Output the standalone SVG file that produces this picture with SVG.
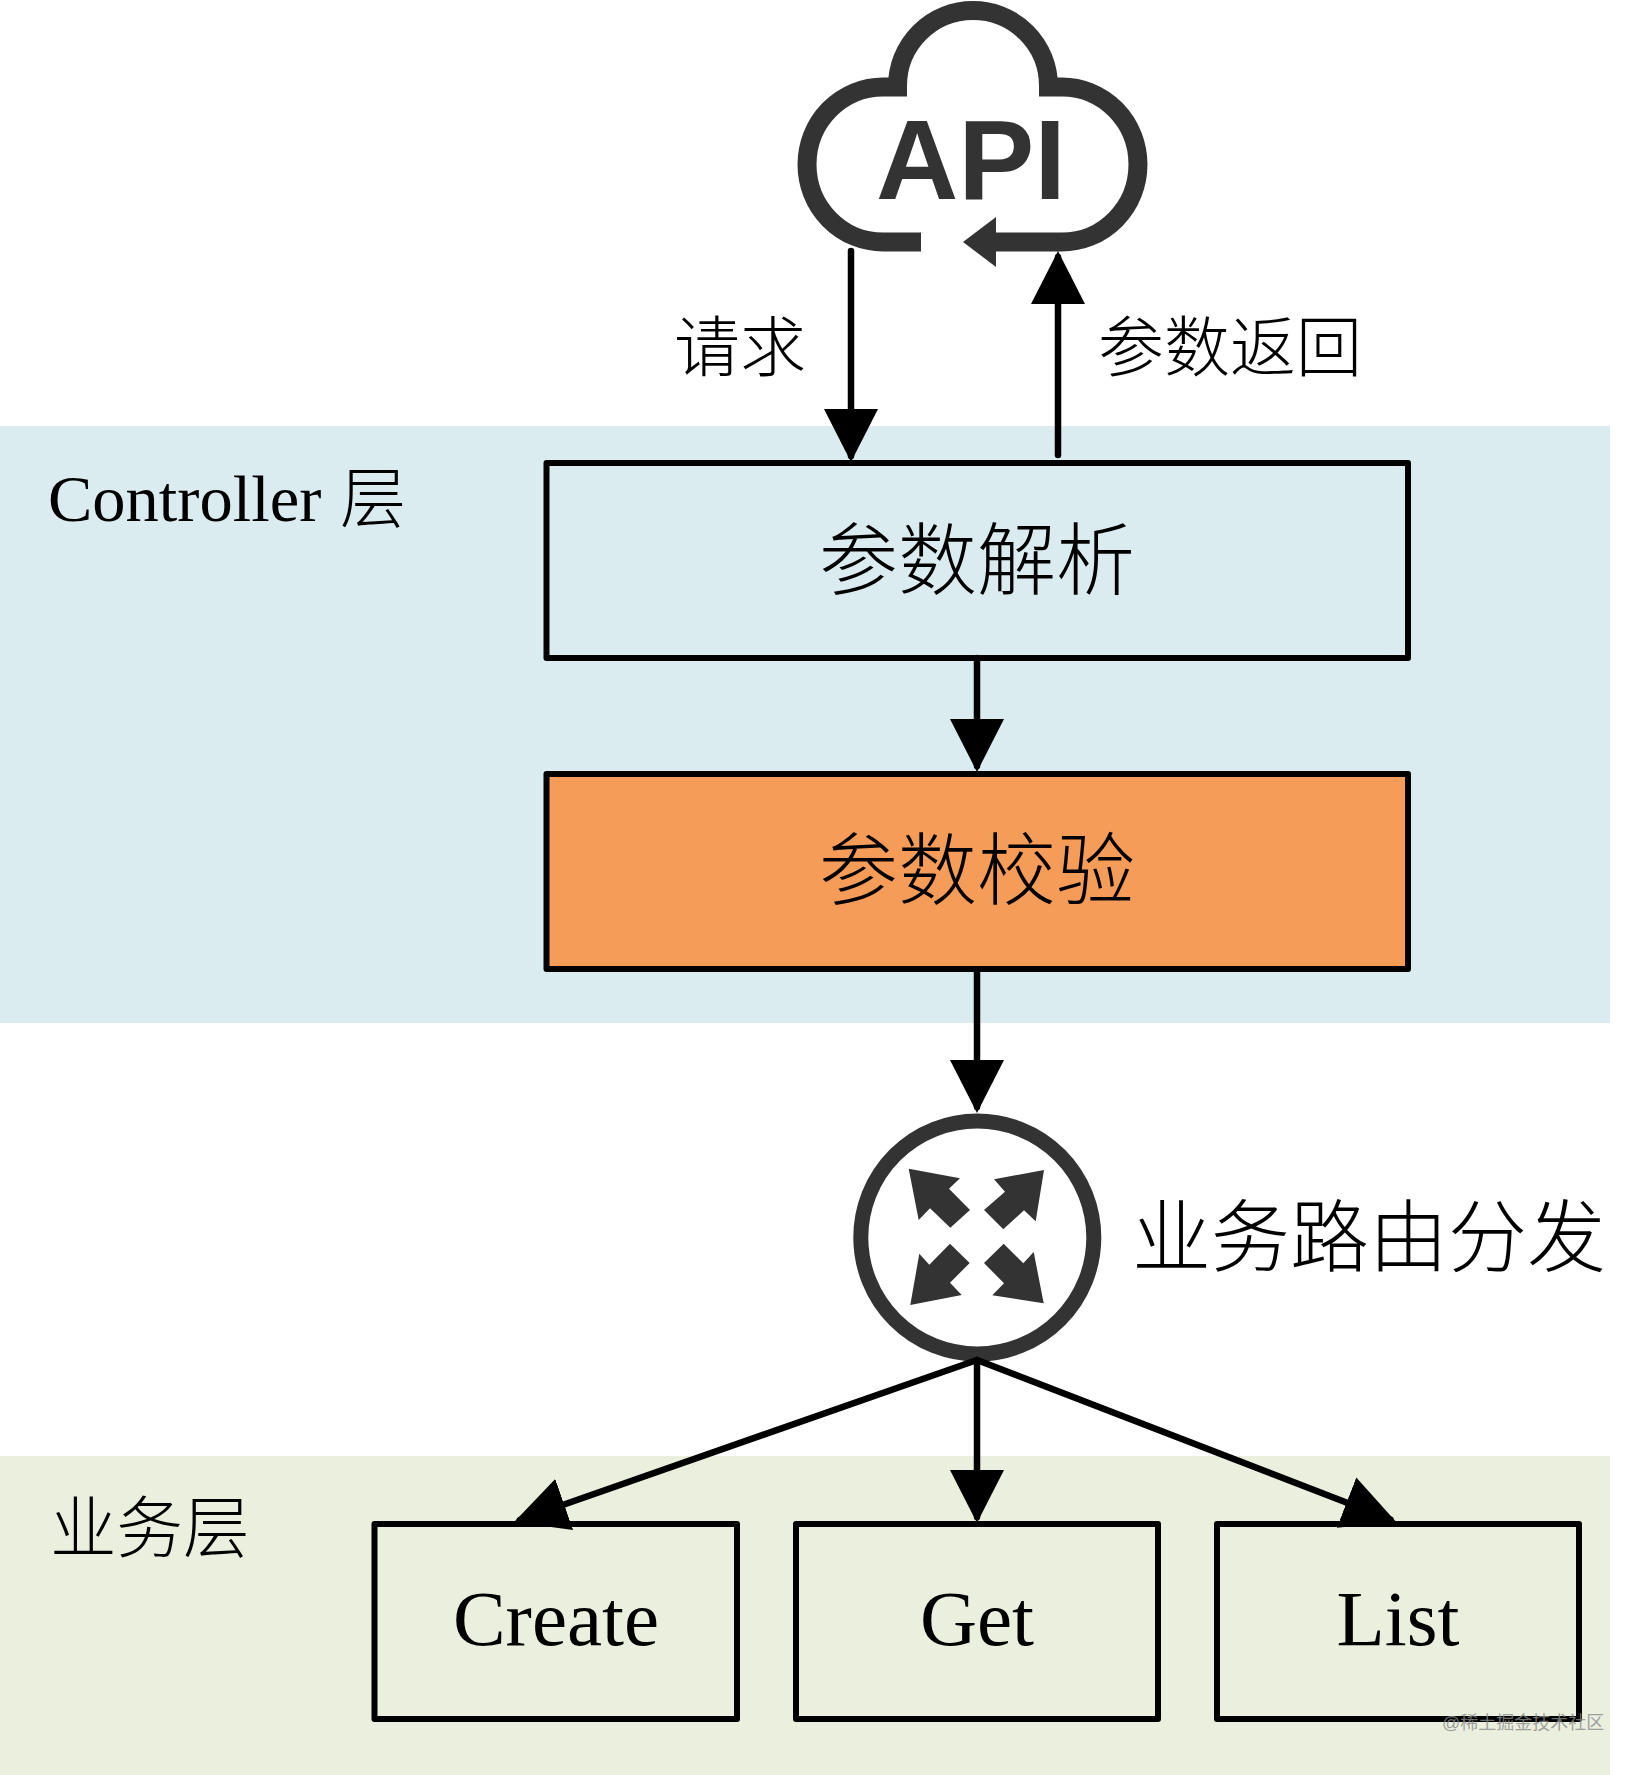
<svg xmlns="http://www.w3.org/2000/svg" width="1646" height="1775" viewBox="0 0 1646 1775">
<style>
.cjk{font-family:"Liberation Serif","Noto Sans CJK SC",serif;font-weight:300;fill:#000}
.lat{font-family:"Liberation Serif","Noto Sans CJK SC",serif;fill:#000}
.box{stroke:#000;stroke-width:6;stroke-linejoin:round}
.conn{stroke:#000;stroke-width:6.500;fill:none;stroke-linecap:round;marker-end:url(#head)}
.icon{fill:#333}
.iconline{fill:none;stroke:#333;stroke-width:19;stroke-linejoin:miter}
</style>
<defs>
<marker id="head" viewBox="0 0 53 54" markerUnits="userSpaceOnUse" markerWidth="53" markerHeight="54" refX="47" refY="27" orient="auto"><path d="M0 0L53 27L0 54Z" fill="#000"/></marker>
</defs>
<rect width="1646" height="1775" fill="#fff"/>
<g id="layer-controller">
<rect x="0" y="426" width="1610" height="597" fill="#dbecf1"/>
<text class="lat" x="48" y="521" font-size="66.500">Controller<tspan class="cjk" x="340" y="522" font-size="66">层</tspan></text>
</g>
<g id="layer-business">
<rect x="0" y="1456" width="1610" height="319" fill="#eaefde"/>
<text class="cjk" x="50" y="1552" font-size="66.500">业务层</text>
</g>
<g id="api-cloud">
<path class="iconline" d="M921 242H883A76 77.500 0 0 1 883 87H897.500V86A75.500 75.500 0 0 1 1048.500 86V87H1062A76 77.500 0 0 1 1062 242H996"/>
<polygon class="icon" points="963,242 996,217 996,267"/>
<text x="876" y="199" font-size="114" font-weight="700" style="font-family:'Liberation Sans',sans-serif;fill:#333">API</text>
</g>
<g id="label-request"><text class="cjk" x="674" y="371" font-size="66">请求</text></g>
<g id="label-return"><text class="cjk" x="1098" y="371" font-size="66">参数返回</text></g>
<g id="node-parse">
<rect class="box" x="546.500" y="463" width="861.500" height="195" fill="#dbecf1"/>
<text class="cjk" x="977" y="589" font-size="79" text-anchor="middle">参数解析</text>
</g>
<g id="node-validate">
<rect class="box" x="546.500" y="774" width="861.500" height="195" fill="#f59c58"/>
<text class="cjk" x="977" y="899" font-size="79" text-anchor="middle">参数校验</text>
</g>
<g id="router">
<circle cx="977.300" cy="1237.500" r="116.500" fill="#fff" stroke="#333" stroke-width="15"/>
<polygon class="icon" points="908.700,1168.700 960,1178.300 949,1188.700 970,1210 950.300,1227.700 930,1208.300 918.700,1220"/>
<polygon class="icon" points="1044,1170 1035.700,1221.300 1024,1210.300 1003.300,1229.300 984,1210 1005,1191.700 994,1179.300"/>
<polygon class="icon" points="910.300,1305 919.300,1253.700 929.300,1264.700 950,1243.700 969.700,1263 950,1282.700 961.700,1295"/>
<polygon class="icon" points="1043.700,1303.300 992.300,1295.300 1004,1283.300 984,1263 1003.700,1243.700 1023.300,1263.300 1033.700,1252"/>
</g>
<g id="label-router"><text class="cjk" x="1132" y="1266" font-size="79">业务路由分发</text></g>
<g id="node-create">
<rect class="box" x="374.500" y="1524" width="362.500" height="195" fill="#eaefde"/>
<text class="lat" x="556" y="1645" font-size="79" text-anchor="middle">Create</text>
</g>
<g id="node-get">
<rect class="box" x="796" y="1524" width="362" height="195" fill="#eaefde"/>
<text class="lat" x="977" y="1645" font-size="79" text-anchor="middle">Get</text>
</g>
<g id="node-list">
<rect class="box" x="1217" y="1524" width="362" height="195" fill="#eaefde"/>
<text class="lat" x="1398" y="1645" font-size="79" text-anchor="middle">List</text>
</g>
<g id="connectors">
<line class="conn" x1="851" y1="251" x2="851" y2="456"/>
<line class="conn" x1="1058" y1="455" x2="1058" y2="257"/>
<line class="conn" x1="977" y1="658" x2="977" y2="766"/>
<line class="conn" x1="977" y1="970" x2="977" y2="1107"/>
<line class="conn" x1="977" y1="1360" x2="519.800" y2="1520"/>
<line class="conn" x1="977" y1="1360" x2="977" y2="1517"/>
<line class="conn" x1="977" y1="1360" x2="1390.400" y2="1519.500"/>
</g>
<text x="1442" y="1729" font-size="18" fill="#8a8a8a" fill-opacity="0.8" style="font-family:'Liberation Sans','Noto Sans CJK SC',sans-serif">@稀土掘金技术社区</text>
</svg>
